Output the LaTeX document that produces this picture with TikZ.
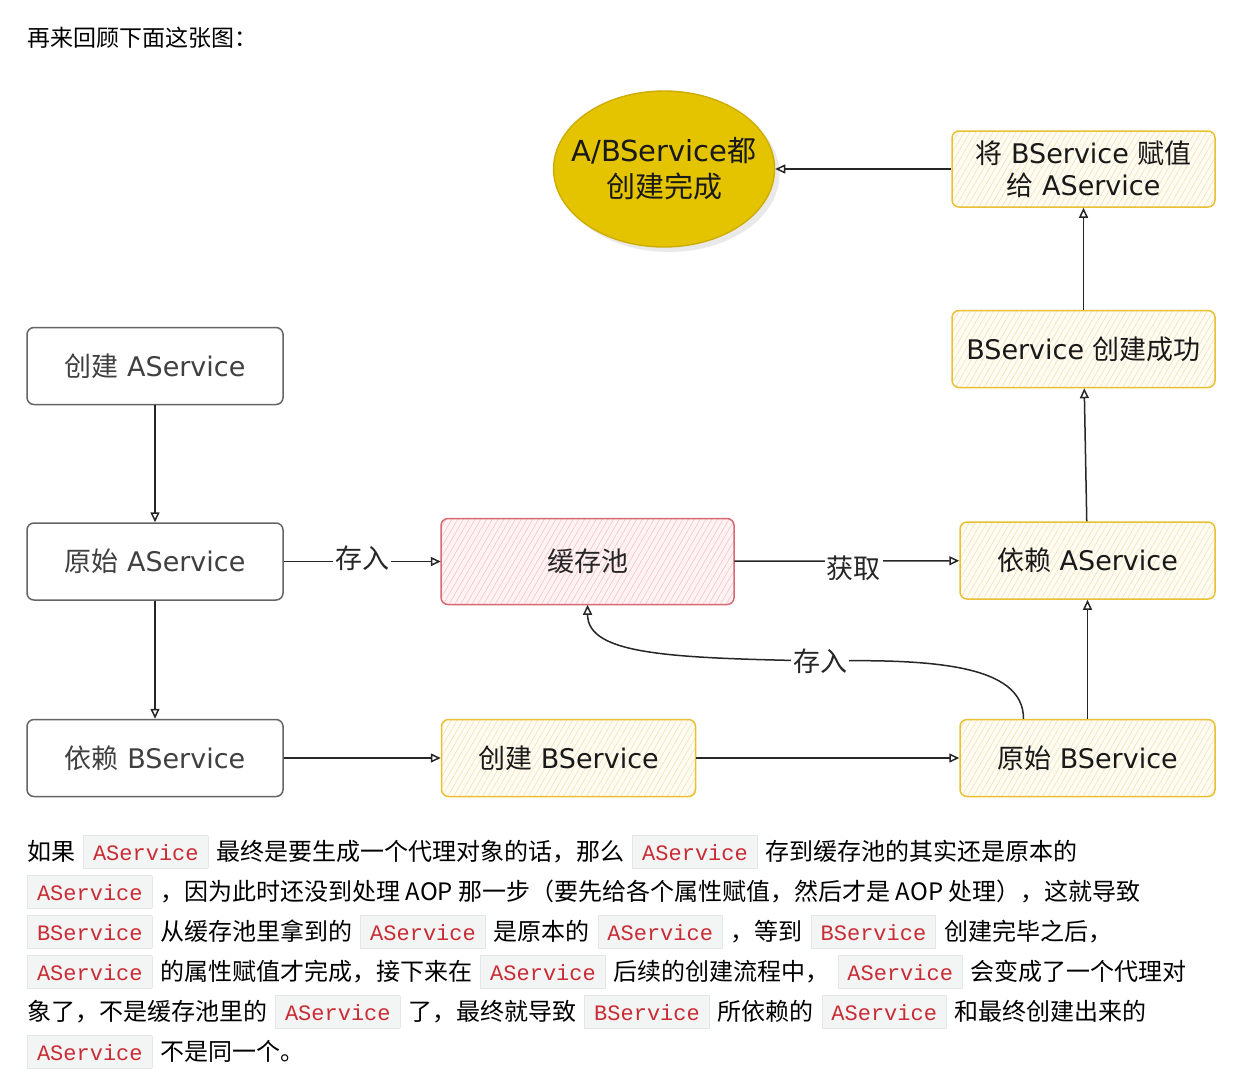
\documentclass[tikz,border=0pt]{standalone}
\usepackage{fontspec}
\usepackage{xcolor}
\usetikzlibrary{positioning,arrows.meta,patterns.meta,shapes.geometric,shadows}

\setmainfont{Noto Sans CJK SC}
\newfontfamily\zhfont{Noto Sans CJK SC}
\newfontfamily\handfont{DejaVu Sans}
\newfontfamily\codefont{Liberation Mono}

\definecolor{boxgrey}{RGB}{100,100,100}
\definecolor{poolred}{RGB}{214,105,115}
\definecolor{poolfill}{RGB}{255,242,243}
\definecolor{poolhatch}{RGB}{244,196,201}
\definecolor{goldline}{RGB}{232,192,50}
\definecolor{goldfill}{RGB}{255,252,243}
\definecolor{goldhatch}{RGB}{243,226,180}
\definecolor{donefill}{RGB}{228,196,0}
\definecolor{doneline}{RGB}{205,172,0}
\definecolor{codered}{RGB}{201,44,52}
\definecolor{codebg}{RGB}{243,244,244}
\definecolor{codeline}{RGB}{228,230,232}

\newcommand{\codebox}[1]{{\setlength{\fboxsep}{0pt}\setlength{\fboxrule}{0.8pt}\fcolorbox{codeline}{codebg}{\rule[-8pt]{0pt}{32pt}\hspace{9pt}{\codefont\fontsize{22}{26}\selectfont\textcolor{codered}{#1}}\hspace{9pt}}}}
\newcommand{\incode}[1]{\hspace{8pt}\codebox{#1}\hspace{8pt}}

\tikzset{
  sketch/.style={rounded corners=7pt, line width=1.5pt, minimum height=77pt, inner sep=0pt,
    font=\handfont\fontsize{27}{32}\selectfont},
  plainbox/.style={sketch, draw=boxgrey, fill=white, text=black!75, minimum width=256pt},
  goldbox/.style={sketch, draw=goldline, preaction={fill=goldfill},
    pattern={Lines[angle=60,distance=5pt,line width=0.6pt]}, pattern color=goldhatch, text=black!90},
  poolbox/.style={sketch, draw=poolred, preaction={fill=poolfill},
    pattern={Lines[angle=60,distance=5pt,line width=0.6pt]}, pattern color=poolhatch, text=black!85},
  donenode/.style={ellipse, draw=doneline, line width=1.4pt, fill=donefill, minimum width=221pt,
    minimum height=156pt, inner sep=0pt,
    drop shadow={shadow xshift=5pt, shadow yshift=-5pt, fill=black!12, opacity=0.7}},
  donetext/.style={align=center, inner sep=0pt, text=black!90, font=\handfont\fontsize{29}{36}\selectfont},
  arr/.style={-{Triangle[open,length=10pt,width=9pt]}, line width=1.5pt, draw=black!85},
  lab/.style={fill=white, inner sep=2pt, text=black!85, font=\zhfont\fontsize{27}{32}\selectfont},
  para/.style={anchor=base west, inner sep=0pt, font=\fontsize{24}{28}\selectfont},
}

\begin{document}
\begin{tikzpicture}[x=1pt, y=-1pt]
  \useasboundingbox (0,0) rectangle (1257,1082);

  \node[anchor=west, inner sep=0pt, font=\fontsize{23}{28}\selectfont] (title) at (27,38) {再来回顾下面这张图：};

  \node[plainbox] (createA) at (155,366) {{\zhfont 创建} AService};
  \node[plainbox, below=117pt of createA] (rawA) {{\zhfont 原始} AService};
  \node[plainbox, below=118pt of rawA] (needB) {{\zhfont 依赖} BService};
  \node[poolbox, minimum width=293pt, minimum height=86pt, right=157pt of rawA] (pool) {{\zhfont 缓存池}};
  \node[goldbox, minimum width=254pt, right=157pt of needB] (createB) {{\zhfont 创建} BService};
  \node[goldbox, minimum width=255pt, right=263pt of createB] (rawB) {{\zhfont 原始} BService};
  \node[goldbox, minimum width=255pt, above=119pt of rawB] (needA) {{\zhfont 依赖} AService};
  \node[goldbox, minimum width=263pt, above=133pt of needA, xshift=-4pt] (okB) {BService {\zhfont 创建成功}};
  \node[goldbox, minimum width=263pt, minimum height=76pt, align=center, above=102pt of okB] (setB)
    {{\zhfont 将} BService {\zhfont 赋值}\\{\zhfont 给} AService};
  \node[donenode, left=176pt of setB] (done) {};
  \node[donetext] (doneLabel) at (done) {A/BService{\zhfont 都}\\{\zhfont 创建完成}};

  \draw[arr] (createA) -- (rawA);
  \draw[arr] (rawA) -- (needB);
  \draw[arr] (rawA) -- node[lab, yshift=3pt] {存入} (pool);
  \draw[arr] (needB) -- (createB);
  \draw[arr] (createB) -- (rawB);
  \draw[arr] (pool) -- node[lab, pos=0.53, yshift=-7pt] {获取} (needA);
  \draw[arr] ([xshift=-64pt]rawB.north) .. controls +(0,-55) and +(110,-2) .. (820,661) node[lab] {存入}
    .. controls +(-150,-3) and +(0,50) .. (pool.south);
  \draw[arr] (rawB) -- (needA);
  \draw[arr] (needA) -- (okB);
  \draw[arr] (okB) -- (setB);
  \draw[arr] (setB) -- (done);

  \node[para] (line1) at (27,860) {如果\incode{AService}最终是要生成一个代理对象的话，那么\incode{AService}存到缓存池的其实还是原本的};
  \node[para] (line2) at (27,900) {\codebox{AService}\hspace{8pt}，因为此时还没到处理 AOP 那一步（要先给各个属性赋值，然后才是 AOP 处理），这就导致};
  \node[para] (line3) at (27,940) {\codebox{BService}\hspace{8pt}从缓存池里拿到的\incode{AService}是原本的\incode{AService}，等到\incode{BService}创建完毕之后，};
  \node[para] (line4) at (27,980) {\codebox{AService}\hspace{8pt}的属性赋值才完成，接下来在\incode{AService}后续的创建流程中，\incode{AService}会变成了一个代理对};
  \node[para] (line5) at (27,1020) {象了，不是缓存池里的\incode{AService}了，最终就导致\incode{BService}所依赖的\incode{AService}和最终创建出来的};
  \node[para] (line6) at (27,1060) {\codebox{AService}\hspace{8pt}不是同一个。};
\end{tikzpicture}
\end{document}
